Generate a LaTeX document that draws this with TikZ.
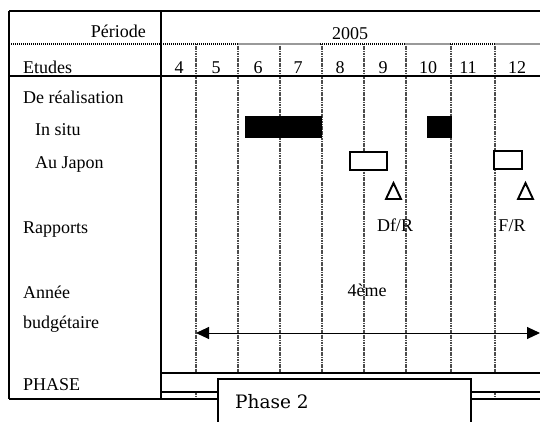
\documentclass[tikz,border=0pt]{standalone}
\usepackage{fontspec}
\setmainfont{Liberation Serif}
\newfontfamily\phasefont{DejaVu Serif}
\usetikzlibrary{arrows.meta}
\begin{document}
\begin{tikzpicture}[x=1pt,y=-1pt,
  frame/.style={line width=2.1pt},
  gridv/.style={gray!60!black, line width=1.6pt, dash pattern=on 1.2pt off 0.5pt},
  dotrow/.style={black, line width=1.2pt, dash pattern=on 1pt off 1pt},
  grayrow/.style={gray!80, line width=1.5pt},
  lbl/.style={anchor=base west, inner sep=0pt, font=\fontsize{18}{20}\selectfont},
  ctr/.style={anchor=base, inner sep=0pt, font=\fontsize{18}{20}\selectfont},
  bar/.style={draw, fill=black, line width=0.8pt, inner sep=0pt, anchor=north west},
  wbox/.style={draw, fill=white, line width=1.5pt, inner sep=0pt, anchor=north west},
  tri/.style={line width=1.9pt, line join=miter}]
\useasboundingbox (0,0) rectangle (540,421);
\fill[white] (0,0) rectangle (540,421);

% vertical month dividers
\foreach \x in {196,238,280,322,364,406,451,495}
  \draw[gridv] (\x,44) -- (\x,399);

% period row separator
\draw[dotrow] (9,44) -- (238,44);
\draw[grayrow] (238,44) -- (320,44);
\draw[dotrow] (320,44) -- (405,44);
\draw[grayrow] (405,44) -- (450,44);
\draw[dotrow] (450,44) -- (495,44);
\draw[grayrow] (495,44) -- (540,44);

% PHASE row
\fill[white] (162,374) rectangle (540,391);
\draw[frame] (161,373) -- (540,373);
\draw[line width=1.5pt] (161,392) -- (218,392);
\draw[line width=1.5pt] (471,392) -- (540,392);

% frame
\draw[frame] (9,11) -- (540,11);
\draw[frame] (9,11) -- (9,399);
\draw[frame] (161,11) -- (161,399);
\draw[frame] (9,399) -- (218,399);
\draw[frame] (471,399) -- (540,399);
\draw[line width=1.8pt] (9,76) -- (540,76);

% header texts
\node[anchor=base east, inner sep=0pt, font=\fontsize{18}{20}\selectfont] (periode) at (146,37) {Période};
\node[ctr] (annee2005) at (350,39) {2005};
\node[lbl] (etudes) at (23,73) {Etudes};
\foreach \m/\x in {4/179,5/216,6/258,7/298,8/340,9/383,10/428,11/468,12/517}
  \node[ctr] (m\m) at (\x,73) {\m};

% row labels
\node[lbl] (real) at (23,103) {De réalisation};
\node[lbl] (insitu) at (35,135) {In situ};
\node[lbl] (japon) at (35,168) {Au Japon};
\node[lbl] (rapports) at (23,233) {Rapports};
\node[lbl] (anneeb) at (23,298) {Année};
\node[lbl] (budget) at (23,328) {budgétaire};
\node[lbl] (phase) at (23,390) {PHASE};

% bars
\node[bar, minimum width=76pt, minimum height=21pt] (bar1) at (245,116) {};
\node[bar, minimum width=24pt, minimum height=21pt] (bar2) at (427,116) {};
\node[wbox, minimum width=37pt, minimum height=18pt] (jp1) at (349,151) {};
\node[wbox, minimum width=28pt, minimum height=18pt] (jp2) at (493,150) {};

% report triangles
\draw[tri] (386,199) -- (393.5,183) -- (401,199) -- cycle;
\draw[tri] (518,199) -- (525.5,183) -- (533,199) -- cycle;
\node[ctr] (dfr) at (395,231) {Df/R};
\node[ctr] (fr) at (512,231) {F/R};

% budget year
\node[ctr] (quatre) at (367,296) {4ème};
\coordinate (al) at (196,333);
\coordinate (ar) at (540,333);
\draw[line width=1pt, {Triangle[length=13pt,width=12pt]}-{Triangle[length=13pt,width=12pt]}] (al) -- (ar);

% Phase 2 box
\begin{scope}
\clip (0,0) rectangle (540,421);
\draw[line width=1.7pt, fill=white] (218,430) -- (218,379) -- (471,379) -- (471,430);
\end{scope}
\node[anchor=base west, inner sep=0pt, font=\phasefont\fontsize{18.5}{22}\selectfont] (phase2) at (235,408) {Phase 2};
\end{tikzpicture}
\end{document}
